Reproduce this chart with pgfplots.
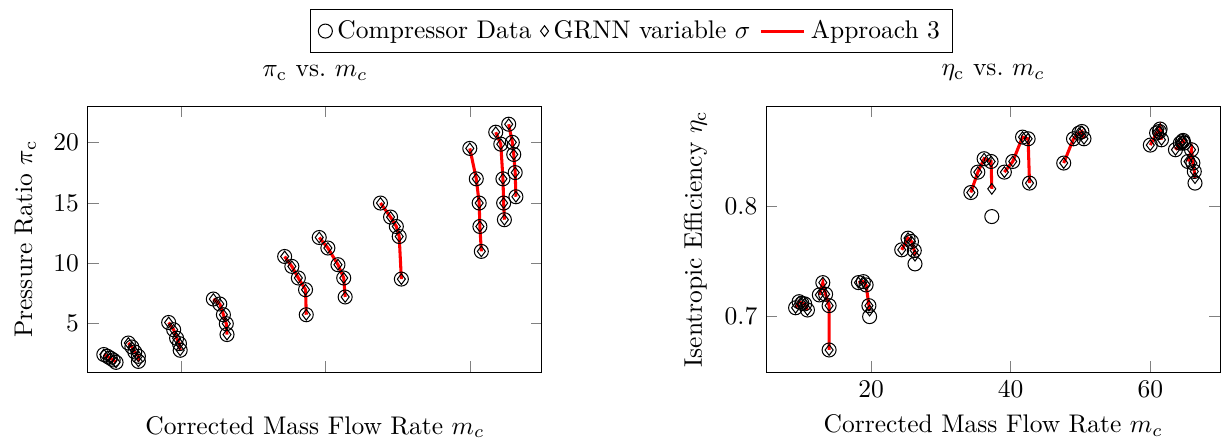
\documentclass[border=0pt]{standalone}
\usepackage{pgfplots}
\pgfplotsset{compat=1.18}
\begin{document}
\begin{tikzpicture}
\pgfplotsset{
  myaxis/.style={
    scale only axis, width=178pt, height=104.3pt,
    anchor=south west,
    xtick={20,40,60},
    xlabel={Corrected Mass Flow Rate $m_c$},
    title style={yshift=0.5pt},
    unbounded coords=jump,
  },
  circ/.style={only marks, mark=o, mark size=2.75pt, black},
  diam/.style={only marks, mark=diamond, mark size=2.1pt, black},
  appr/.style={red, line width=1.2pt, no markers},
}
\begin{axis}[myaxis, at={(0pt,0pt)},
  xmin=7, xmax=70, ymin=1, ymax=23,
  ytick={5,10,15,20},
  xticklabel={\phantom{00}},
  ylabel={Pressure Ratio $\pi_{\mathrm{c}}$},
  title={$\pi_{\mathrm{c}}$ vs.\ $m_c$},
  legend columns=-1,
  legend style={at={(1.198,1.282)}, anchor=center, draw=black,
    /tikz/every even column/.append style={column sep=1.5pt}},
]
\addplot[circ] coordinates {
(9.2,2.45) (9.7,2.3) (10.1,2.15) (10.5,2.0) (10.9,1.8)
(12.6,3.4) (13.1,3.07) (13.5,2.66) (14.0,2.3) (14.0,1.88)
(18.2,5.1) (18.9,4.5) (19.3,3.8) (19.7,3.35) (19.8,2.8)
(24.4,7.04) (25.3,6.63) (25.8,5.74) (26.2,5.0) (26.3,4.1)
(34.3,10.56) (35.3,9.74) (36.2,8.78) (37.2,7.81) (37.3,5.74)
(39.1,12.13) (40.3,11.26) (41.7,9.88) (42.5,8.78) (42.7,7.21)
(47.6,14.98) (49.0,13.82) (49.8,13.04) (50.2,12.21) (50.5,8.69)
(60.0,19.5) (60.9,16.98) (61.3,14.98) (61.4,13.04) (61.6,10.98)
(63.6,20.84) (64.3,19.85) (64.6,16.98) (64.7,14.98) (64.8,13.6)
(65.4,21.5) (65.9,20.0) (66.1,19.0) (66.3,17.5) (66.4,15.5)
};
\addlegendentry{Compressor Data}
\addplot[diam] coordinates {
(9.2,2.45) (9.7,2.3) (10.1,2.15) (10.5,2.0) (10.9,1.8)
(12.6,3.4) (13.1,3.07) (13.5,2.66) (14.0,2.3) (14.0,1.88)
(18.2,5.1) (18.9,4.5) (19.3,3.8) (19.7,3.35) (19.8,2.8)
(24.4,7.04) (25.3,6.63) (25.8,5.74) (26.2,5.0) (26.3,4.1)
(34.3,10.56) (35.3,9.74) (36.2,8.78) (37.2,7.81) (37.3,5.74)
(39.1,12.13) (40.3,11.26) (41.7,9.88) (42.5,8.78) (42.7,7.21)
(47.6,14.98) (49.0,13.82) (49.8,13.04) (50.2,12.21) (50.5,8.69)
(60.0,19.5) (60.9,16.98) (61.3,14.98) (61.4,13.04) (61.6,10.98)
(63.6,20.84) (64.3,19.85) (64.6,16.98) (64.7,14.98) (64.8,13.6)
(65.4,21.5) (65.9,20.0) (66.1,19.0) (66.3,17.5) (66.4,15.5)
};
\addlegendentry{GRNN variable $\sigma$}
\addplot[appr] coordinates {
(9.2,2.45) (9.7,2.3) (10.1,2.15) (10.5,2.0) (10.9,1.8) (nan,nan)
(12.6,3.4) (13.1,3.07) (13.5,2.66) (14.0,2.3) (14.0,1.88) (nan,nan)
(18.2,5.1) (18.9,4.5) (19.3,3.8) (19.7,3.35) (19.8,2.8) (nan,nan)
(24.4,7.04) (25.3,6.63) (25.8,5.74) (26.2,5.0) (26.3,4.1) (nan,nan)
(34.3,10.56) (35.3,9.74) (36.2,8.78) (37.2,7.81) (37.3,5.74) (nan,nan)
(39.1,12.13) (40.3,11.26) (41.7,9.88) (42.5,8.78) (42.7,7.21) (nan,nan)
(47.6,14.98) (49.0,13.82) (49.8,13.04) (50.2,12.21) (50.5,8.69) (nan,nan)
(60.0,19.5) (60.9,16.98) (61.3,14.98) (61.4,13.04) (61.6,10.98) (nan,nan)
(63.6,20.84) (64.3,19.85) (64.6,16.98) (64.7,14.98) (64.8,13.6) (nan,nan)
(65.4,21.5) (65.9,20.0) (66.1,19.0) (66.3,17.5) (66.4,15.5)
};
\addlegendentry{Approach 3}
\end{axis}
\begin{axis}[myaxis, at={(266pt,0pt)},
  xmin=5, xmax=70, ymin=0.65, ymax=0.89,
  ytick={0.7,0.8},
  ylabel={Isentropic Efficiency $\eta_{\mathrm{c}}$},
  title={$\eta_{\mathrm{c}}$ vs.\ $m_c$},
]
\addplot[circ] coordinates {
(9.2,0.708) (9.7,0.7135) (10.1,0.712) (10.5,0.7115) (10.9,0.706)
(12.6,0.7196) (13.1,0.7307) (13.5,0.7202) (14.0,0.7099) (14.0,0.6699)
(18.2,0.7307) (18.9,0.7316) (19.3,0.7286) (19.7,0.7099) (19.8,0.700)
(24.4,0.7603) (25.3,0.7708) (25.8,0.7678) (26.2,0.7596) (26.3,0.7476)
(34.3,0.812) (35.3,0.8304) (36.2,0.8425) (37.2,0.840) (37.3,0.7903)
(39.1,0.8304) (40.3,0.840) (41.7,0.862) (42.5,0.8605) (42.7,0.8205)
(47.6,0.8386) (49.0,0.8605) (49.8,0.8657) (50.2,0.8671) (50.5,0.8605)
(60.0,0.8548) (60.9,0.8657) (61.3,0.8671) (61.4,0.8693) (61.6,0.8596)
(63.6,0.8506) (64.3,0.8566) (64.6,0.858) (64.7,0.859) (64.8,0.8566)
(65.4,0.840) (65.9,0.8506) (66.1,0.8386) (66.3,0.831) (66.4,0.8205)
};
\addplot[diam] coordinates {
(9.2,0.708) (9.7,0.7135) (10.1,0.712) (10.5,0.7115) (10.9,0.706)
(12.6,0.7196) (13.1,0.7307) (13.5,0.7202) (14.0,0.7099) (14.0,0.6699)
(18.2,0.7307) (18.9,0.7316) (19.3,0.7286) (19.7,0.7099) (19.8,0.7055)
(24.4,0.7603) (25.3,0.7708) (25.8,0.7678) (26.2,0.7596) (26.3,0.755)
(34.3,0.812) (35.3,0.8304) (36.2,0.8425) (37.2,0.840) (37.3,0.8153)
(39.1,0.8304) (40.3,0.840) (41.7,0.862) (42.5,0.8605) (42.7,0.8205)
(47.6,0.8386) (49.0,0.8605) (49.8,0.8657) (50.2,0.8671) (50.5,0.8605)
(60.0,0.8548) (60.9,0.8657) (61.3,0.8671) (61.4,0.8693) (61.6,0.8596)
(63.6,0.8506) (64.3,0.8566) (64.6,0.858) (64.7,0.859) (64.8,0.8566)
(65.4,0.840) (65.9,0.8506) (66.1,0.8386) (66.3,0.831) (66.4,0.825)
};
\addplot[appr] coordinates {
(9.2,0.708) (9.7,0.7135) (10.1,0.712) (10.5,0.7115) (10.9,0.706) (nan,nan)
(12.6,0.7196) (13.1,0.7307) (13.5,0.7202) (14.0,0.7099) (14.0,0.6699) (nan,nan)
(18.2,0.7307) (18.9,0.7316) (19.3,0.7286) (19.7,0.7099) (19.8,0.7055) (nan,nan)
(24.4,0.7603) (25.3,0.7708) (25.8,0.7678) (26.2,0.7596) (26.3,0.755) (nan,nan)
(34.3,0.812) (35.3,0.8304) (36.2,0.8425) (37.2,0.840) (37.3,0.8153) (nan,nan)
(39.1,0.8304) (40.3,0.840) (41.7,0.862) (42.5,0.8605) (42.7,0.8205) (nan,nan)
(47.6,0.8386) (49.0,0.8605) (49.8,0.8657) (50.2,0.8671) (50.5,0.8605) (nan,nan)
(60.0,0.8548) (60.9,0.8657) (61.3,0.8671) (61.4,0.8693) (61.6,0.8596) (nan,nan)
(63.6,0.8506) (64.3,0.8566) (64.6,0.858) (64.7,0.859) (64.8,0.8566) (nan,nan)
(65.4,0.840) (65.9,0.8506) (66.1,0.8386) (66.3,0.831) (66.4,0.825)
};
\end{axis}
\pgfresetboundingbox
\path[use as bounding box] (-34.5pt,-29pt) rectangle (446.3pt,145.9pt);
\end{tikzpicture}
\end{document}
